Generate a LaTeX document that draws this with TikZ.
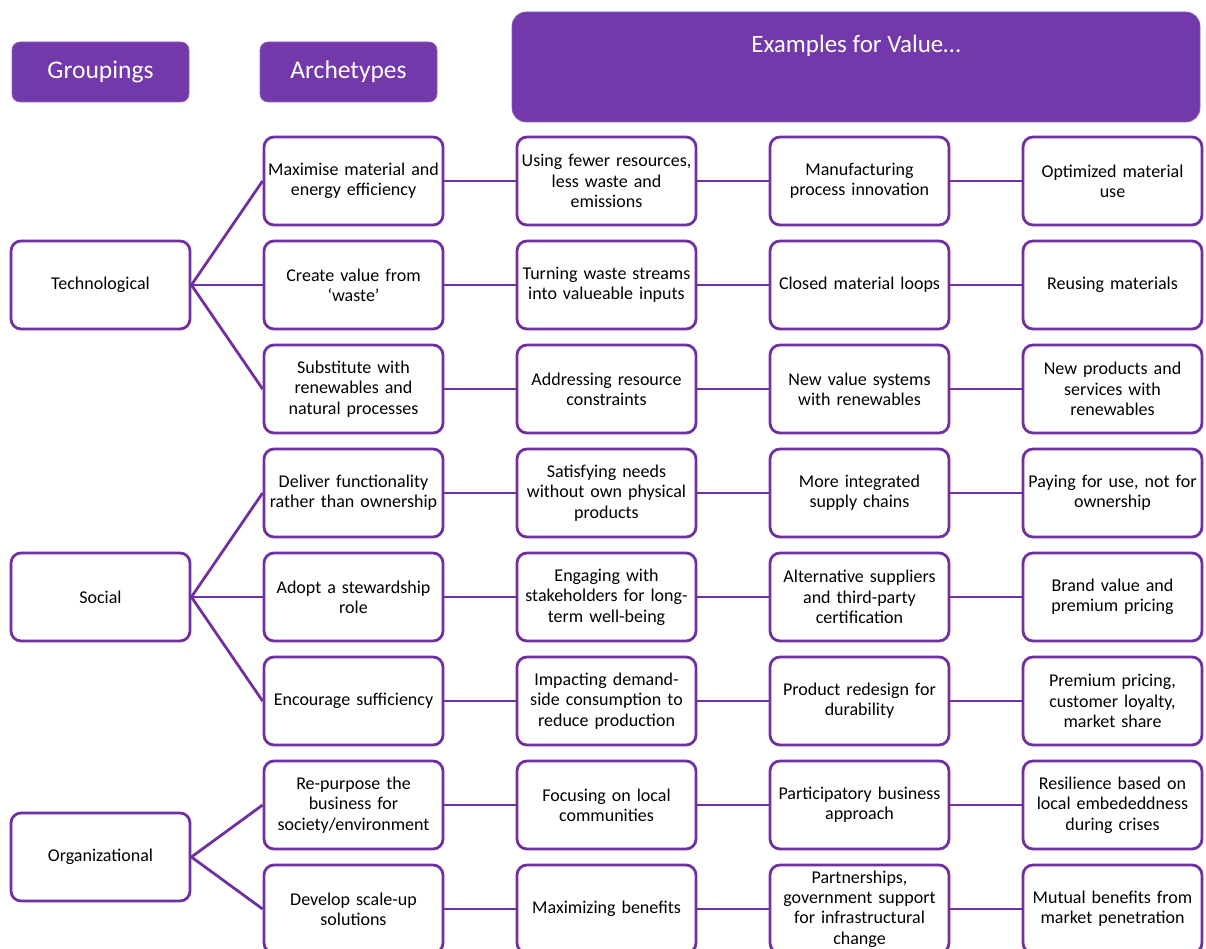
\documentclass[tikz,border=0pt]{standalone}
\usepackage{fontspec}
\setmainfont{Carlito}
\definecolor{vp}{RGB}{112,48,160}
\definecolor{vpfill}{RGB}{115,57,170}
\begin{document}
\begin{tikzpicture}[x=1pt,y=-1pt,
  box/.style={draw=vp, line width=2.8pt, rounded corners=10pt, fill=white,
    minimum width=179pt, minimum height=88pt, text width=178pt,
    align=center, inner sep=0pt, font=\fontsize{18}{20.3}\selectfont},
  head/.style={fill=vpfill, draw=vpfill!80!white, line width=0.6pt, rounded corners=8pt,
    text=white, minimum width=177pt, minimum height=60pt, inner sep=0pt,
    font=\fontsize{25.5}{30}\selectfont},
  link/.style={draw=vp, line width=2.8pt}]
\useasboundingbox (0,0) rectangle (1206,949);

% header bars
\node[head] (hg) at (100.5,72) {Groupings};
\node[head] (ha) at (348.5,72) {Archetypes};
\node[head, minimum width=688pt, minimum height=110pt, rounded corners=14pt] (he) at (856,67) {};
\node[text=white, font=\fontsize{25}{30}\selectfont, anchor=center] (het) at (856,46) {Examples for Value…};

% groupings
\node[box] (g1) at (100.5,285) {Technological};
\node[box] (g2) at (100.5,597) {Social};
\node[box] (g3) at (100.5,857) {Organizational};

% rows: archetype and three example columns
\node[box] (a1) at (353.5,181) {Maximise material and\\energy efficiency};
\node[box] (b1) at (606.5,181) {Using fewer resources,\\less waste and\\emissions};
\node[box] (c1) at (859.5,181) {Manufacturing\\process innovation};
\node[box] (d1) at (1112.5,181) {Optimized material\\use};

\node[box] (a2) at (353.5,285) {Create value from\\‘waste’};
\node[box] (b2) at (606.5,285) {Turning waste streams\\into valueable inputs};
\node[box] (c2) at (859.5,285) {Closed material loops};
\node[box] (d2) at (1112.5,285) {Reusing materials};

\node[box] (a3) at (353.5,389) {Substitute with\\renewables and\\natural processes};
\node[box] (b3) at (606.5,389) {Addressing resource\\constraints};
\node[box] (c3) at (859.5,389) {New value systems\\with renewables};
\node[box] (d3) at (1112.5,389) {New products and\\services with\\renewables};

\node[box] (a4) at (353.5,493) {Deliver functionality\\rather than ownership};
\node[box] (b4) at (606.5,493) {Satisfying needs\\without own physical\\products};
\node[box] (c4) at (859.5,493) {More integrated\\supply chains};
\node[box] (d4) at (1112.5,493) {Paying for use, not for\\ownership};

\node[box] (a5) at (353.5,597) {Adopt a stewardship\\role};
\node[box] (b5) at (606.5,597) {Engaging with\\stakeholders for long-\\term well-being};
\node[box] (c5) at (859.5,597) {Alternative suppliers\\and third-party\\certification};
\node[box] (d5) at (1112.5,597) {Brand value and\\premium pricing};

\node[box] (a6) at (353.5,701) {Encourage sufficiency};
\node[box] (b6) at (606.5,701) {Impacting demand-\\side consumption to\\reduce production};
\node[box] (c6) at (859.5,701) {Product redesign for\\durability};
\node[box] (d6) at (1112.5,701) {Premium pricing,\\customer loyalty,\\market share};

\node[box] (a7) at (353.5,805) {Re-purpose the\\business for\\society/environment};
\node[box] (b7) at (606.5,805) {Focusing on local\\communities};
\node[box] (c7) at (859.5,805) {Participatory business\\approach};
\node[box] (d7) at (1112.5,805) {Resilience based on\\local embededdness\\during crises};

\node[box] (a8) at (353.5,909) {Develop scale-up\\solutions};
\node[box] (b8) at (606.5,909) {Maximizing benefits};
\node[box] (c8) at (859.5,909) {Partnerships,\\government support\\for infrastructural\\change};
\node[box] (d8) at (1112.5,909) {Mutual benefits from\\market penetration};

% connectors from groupings to archetypes
\foreach \a in {a1,a2,a3} \draw[link] (g1.east) -- (\a.west);
\foreach \a in {a4,a5,a6} \draw[link] (g2.east) -- (\a.west);
\foreach \a in {a7,a8} \draw[link] (g3.east) -- (\a.west);

% connectors along each row
\foreach \i in {1,...,8} {
  \draw[link] (a\i.east) -- (b\i.west);
  \draw[link] (b\i.east) -- (c\i.west);
  \draw[link] (c\i.east) -- (d\i.west);
}
\end{tikzpicture}
\end{document}
